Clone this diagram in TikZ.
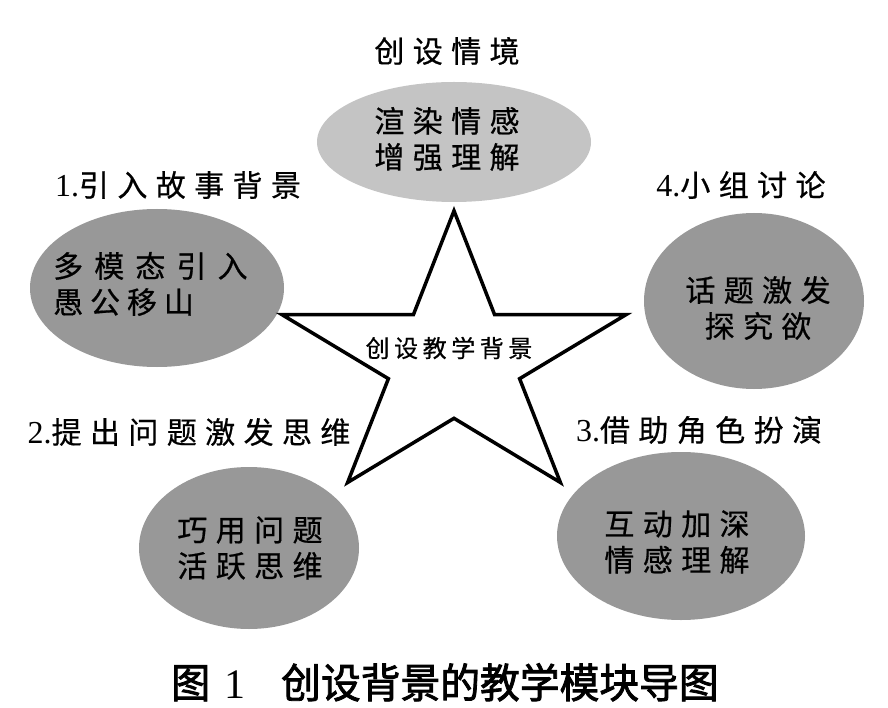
\documentclass[tikz,border=0pt]{standalone}
\usepackage{fontspec}
\setmainfont{Liberation Serif}
\newfontfamily\cjk{Noto Sans CJK SC}[LetterSpace=28, FakeBold=0.6]
\newfontfamily\cjkc{Noto Sans CJK SC}[LetterSpace=19, FakeBold=0.5]
\newfontfamily\cjkcap{Noto Sans CJK SC}[FakeBold=2]
\usetikzlibrary{shapes.geometric}
\definecolor{lightfill}{RGB}{196,196,196}
\definecolor{darkfill}{RGB}{152,152,152}
\tikzset{
  bubble/.style={ellipse, inner sep=0pt, draw=none},
  lightbubble/.style={bubble, fill=lightfill},
  darkbubble/.style={bubble, fill=darkfill},
  heading/.style={inner sep=0pt, font=\fontsize{30}{30}\selectfont},
  bubbletext/.style={inner sep=0pt, align=center, font=\fontsize{30}{36}\selectfont\cjk},
  centertext/.style={inner sep=0pt, font=\fontsize{24}{24}\selectfont\cjkc},
  captiontext/.style={inner sep=0pt, anchor=base west, font=\fontsize{41}{41}\selectfont\cjkcap},
  starline/.style={line width=3.5pt, line join=miter, fill=white, draw=black},
}
\begin{document}
\begin{tikzpicture}[x=1pt,y=-1pt]
\useasboundingbox (0,0) rectangle (888,708);
% bubbles
\node[lightbubble, minimum width=274pt, minimum height=120pt] (etop) at (454,142) {};
\node[darkbubble, minimum width=254pt, minimum height=158pt] (eone) at (157,288) {};
\node[darkbubble, minimum width=220pt, minimum height=176pt] (efour) at (754,301) {};
\node[darkbubble, minimum width=220pt, minimum height=162pt] (etwo) at (249,548) {};
\node[darkbubble, minimum width=248pt, minimum height=168pt] (ethree) at (681,536) {};
% star
\draw[starline] (454,210.8) -- (494.6,314.7) -- (626.1,314.6) -- (519.6,378.7)
  -- (560.4,482.5) -- (454,418.3) -- (347.6,482.5) -- (388.4,378.7)
  -- (281.9,314.6) -- (413.4,314.7) -- cycle;
\node[centertext] (star) at (449,348) {创设教学背景};
% headings
\node[heading] (htop) at (447,51) {\cjk 创设情境};
\node[heading] (hone) at (178,185) {\fontsize{32}{32}\selectfont 1.\cjk\fontsize{30}{30}\selectfont 引入故事背景};
\node[heading] (hfour) at (741,185) {\fontsize{32}{32}\selectfont 4.\cjk\fontsize{30}{30}\selectfont 小组讨论};
\node[heading] (htwo) at (189,432) {\fontsize{32}{32}\selectfont 2.\cjk\fontsize{30}{30}\selectfont 提出问题激发思维};
\node[heading] (hthree) at (699,430) {\fontsize{32}{32}\selectfont 3.\cjk\fontsize{30}{30}\selectfont 借助角色扮演};
% bubble texts
\node[bubbletext] (ttop) at (447,139) {渲染情感\\增强理解};
\node[bubbletext, align=left, anchor=west] (tone) at (53,284) {{\addfontfeature{LetterSpace=37}多模态引入}\\{\addfontfeature{LetterSpace=23}愚公移山}};
\node[bubbletext] (tfour) at (758,308) {话题激发\\探究欲};
\node[bubbletext] (ttwo) at (250,548) {巧用问题\\活跃思维};
\node[bubbletext] (tthree) at (677,542) {互动加深\\情感理解};
% caption
\node[captiontext] (capnum) at (171,698) {\scalebox{0.95}[1]{图}\hspace{14pt}{\rmfamily\fontsize{42}{42}\selectfont 1}};
\node[captiontext] (captext) at (281,698) {\scalebox{0.97}[1]{创设背景的教学模块导图}};
\end{tikzpicture}
\end{document}
